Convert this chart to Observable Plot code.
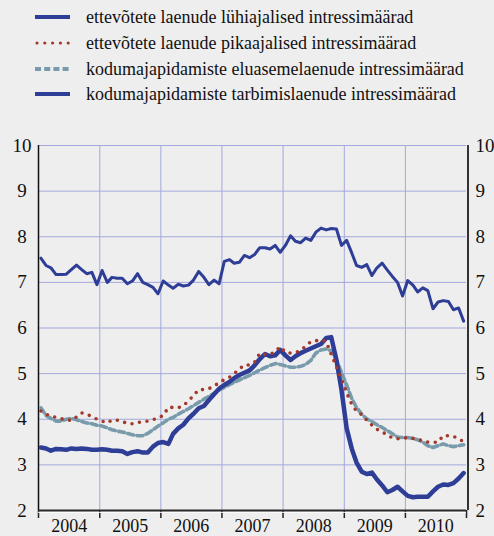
<!DOCTYPE html>
<html><head><meta charset="utf-8">
<script src="https://cdn.jsdelivr.net/npm/d3@7"></script>
<script src="https://cdn.jsdelivr.net/npm/@observablehq/plot@0.6"></script>
<style>
html,body{margin:0;padding:0;background:#eeeeee;}
body{width:494px;height:536px;overflow:hidden;font-family:"Liberation Serif","Times New Roman",serif;}
#legend{position:relative;height:110px;width:494px;}
.row{position:absolute;left:0;width:494px;height:24px;}
.row svg{position:absolute;left:35px;top:8px;}
.row span{position:absolute;left:86px;top:0;font-size:18px;line-height:24px;white-space:nowrap;color:#111;}
#chart svg{display:block;}
</style></head>
<body>
<div id="legend"></div>
<div id="chart"></div>
<script>
// ---- data ----
const years = [2004, 2005, 2006, 2007, 2008, 2009, 2010];
const yTicks = [2, 3, 4, 5, 6, 7, 8, 9, 10];
const seriesNames = [
  "ettevõtete laenude lühiajalised intressimäärad",
  "ettevõtete laenude pikaajalised intressimäärad",
  "kodumajapidamiste eluasemelaenude intressimäärad",
  "kodumajapidamiste tarbimislaenude intressimäärad"
];
// monthly values, Jan 2004 .. Dec 2010
const shortTerm = [
  3.38, 3.36, 3.31, 3.35, 3.34, 3.33, 3.36, 3.35, 3.36, 3.35, 3.33, 3.33,
  3.34, 3.33, 3.31, 3.31, 3.30, 3.24, 3.28, 3.30, 3.27, 3.27, 3.40, 3.48,
  3.50, 3.46, 3.68, 3.80, 3.88, 4.02, 4.12, 4.24, 4.29, 4.42, 4.55, 4.67,
  4.75, 4.82, 4.90, 4.97, 5.02, 5.07, 5.18, 5.32, 5.43, 5.38, 5.40, 5.52,
  5.40, 5.30, 5.38, 5.45, 5.50, 5.55, 5.60, 5.65, 5.78, 5.80, 5.30, 4.65,
  3.80, 3.35, 3.05, 2.85, 2.80, 2.83, 2.68, 2.55, 2.40, 2.45, 2.52, 2.42,
  2.32, 2.29, 2.30, 2.30, 2.30, 2.42, 2.52, 2.57, 2.56, 2.60, 2.70, 2.82
];
const longTerm = [
  4.18, 4.11, 4.07, 4.04, 4.01, 4.00, 3.97, 4.05, 4.14, 4.11, 4.06, 4.00,
  3.96, 3.92, 3.98, 3.98, 3.95, 3.91, 3.90, 3.93, 3.94, 3.96, 3.99, 4.03,
  4.08, 4.26, 4.26, 4.25, 4.30, 4.40, 4.52, 4.65, 4.65, 4.67, 4.73, 4.80,
  4.87, 4.92, 5.00, 5.10, 5.19, 5.19, 5.25, 5.45, 5.42, 5.42, 5.48, 5.59,
  5.47, 5.45, 5.46, 5.51, 5.60, 5.70, 5.72, 5.74, 5.70, 5.42, 5.15, 4.88,
  4.58, 4.32, 4.18, 4.10, 3.98, 3.87, 3.78, 3.72, 3.66, 3.59, 3.57, 3.58,
  3.60, 3.58, 3.57, 3.52, 3.50, 3.49, 3.50, 3.64, 3.64, 3.62, 3.58, 3.50
];
const housing = [
  4.25, 4.08, 4.02, 3.96, 3.96, 4.00, 4.02, 3.99, 3.95, 3.92, 3.90, 3.87,
  3.85, 3.81, 3.77, 3.74, 3.72, 3.69, 3.66, 3.64, 3.64, 3.69, 3.77, 3.85,
  3.92, 4.00, 4.04, 4.11, 4.17, 4.23, 4.30, 4.37, 4.44, 4.50, 4.57, 4.64,
  4.70, 4.76, 4.81, 4.86, 4.91, 4.96, 5.02, 5.08, 5.13, 5.18, 5.22, 5.20,
  5.17, 5.14, 5.14, 5.16, 5.20, 5.29, 5.45, 5.52, 5.54, 5.50, 5.30, 5.03,
  4.75, 4.45, 4.26, 4.11, 4.01, 3.95, 3.88, 3.82, 3.75, 3.68, 3.61, 3.60,
  3.60, 3.58, 3.55, 3.50, 3.42, 3.38, 3.42, 3.46, 3.42, 3.40, 3.42, 3.44
];
const consumer = [
  7.53, 7.37, 7.32, 7.17, 7.17, 7.18, 7.28, 7.38, 7.28, 7.19, 7.22, 6.95,
  7.26, 7.00, 7.11, 7.09, 7.09, 6.97, 7.03, 7.19, 7.00, 6.95, 6.89, 6.75,
  7.03, 6.94, 6.87, 6.96, 6.92, 6.94, 7.05, 7.24, 7.11, 6.95, 7.05, 6.97,
  7.46, 7.50, 7.42, 7.44, 7.59, 7.54, 7.61, 7.76, 7.76, 7.73, 7.81, 7.66,
  7.81, 8.02, 7.90, 7.87, 7.97, 7.92, 8.10, 8.19, 8.15, 8.18, 8.17, 7.81,
  7.92, 7.64, 7.37, 7.33, 7.39, 7.15, 7.32, 7.42, 7.27, 7.13, 7.00, 6.70,
  7.04, 6.94, 6.79, 6.88, 6.82, 6.42, 6.57, 6.60, 6.58, 6.40, 6.44, 6.15
];

// ---- styles ----
const BLUE = "#2e3d96";
const RED = "#a3382b";
const GRAY = "#789bab";
const GRID = "#a3a8dc";

const styles = [
  {stroke: BLUE, strokeWidth: 4.5},
  {stroke: RED, strokeWidth: 3.6, strokeDasharray: "0 7.6", strokeLinecap: "round"},
  {stroke: GRAY, strokeWidth: 3.6, strokeDasharray: "6 3.5"},
  {stroke: BLUE, strokeWidth: 3}
];

// ---- legend ----
const legendTops = [5, 31, 57, 82];
const legend = d3.select("#legend");
seriesNames.forEach((name, k) => {
  const row = legend.append("div").attr("class", "row").style("top", legendTops[k] + "px");
  const svg = row.append("svg").attr("width", 38).attr("height", 8);
  const s = styles[k];
  svg.append("line")
    .attr("x1", k === 1 ? 2 : 0).attr("x2", k === 1 ? 36 : 35).attr("y1", 4).attr("y2", 4)
    .attr("stroke", s.stroke)
    .attr("stroke-width", k === 1 ? 3.2 : 4.2)
    .attr("stroke-dasharray", k === 1 ? "0 7.8" : (k === 2 ? "6 3.2" : null))
    .attr("stroke-linecap", k === 1 ? "round" : "butt");
  row.append("span").text(name);
});

// ---- chart ----
const toRows = arr => arr.map((v, i) => ({date: new Date(Date.UTC(2004, i, 15)), value: v}));
const allSeries = [shortTerm, longTerm, housing, consumer].map(toRows);
const yearStarts = years.map(y => new Date(Date.UTC(y, 0, 1))).concat([new Date(Date.UTC(2011, 0, 1))]);
const yearMids = years.map(y => new Date(Date.UTC(y, 6, 2)));

const chart = Plot.plot({
  width: 494,
  height: 426,
  marginLeft: 38,
  marginRight: 28,
  marginTop: 35,
  marginBottom: 26,
  style: {background: "#eeeeee", fontFamily: "Liberation Serif, Times New Roman, serif", fontSize: "19px", color: "#111", overflow: "visible"},
  x: {type: "utc", domain: [yearStarts[0], yearStarts[yearStarts.length - 1]]},
  y: {domain: [2, 10]},
  marks: [
    Plot.ruleY(yTicks, {stroke: GRID, strokeWidth: 1}),
    Plot.ruleX(yearStarts.slice(1, -1), {stroke: GRID, strokeWidth: 1}),
    Plot.axisY({anchor: "left", ticks: yTicks, tickSize: 0, tickPadding: 16.5, textAnchor: "middle", label: null, fontSize: 19, tickFormat: d => String(d)}),
    Plot.axisY({anchor: "right", ticks: yTicks, tickSize: 0, tickPadding: 9, label: null, fontSize: 19, tickFormat: d => String(d)}),
    Plot.axisX({ticks: yearMids, tickSize: 0, tickPadding: 9, label: null, fontSize: 18, tickFormat: d => String(d.getUTCFullYear())}),
    Plot.axisX({ticks: yearStarts, tickSize: 8, tickFormat: () => "", label: null, stroke: "#222", strokeWidth: 1.5}),
    Plot.ruleY([2], {stroke: "#ffffff", strokeWidth: 1, dy: 1.8}),
    Plot.ruleY([2], {stroke: "#2a2a2a", strokeWidth: 1.8}),
    Plot.ruleX([yearStarts[0]], {stroke: "#111", strokeWidth: 1.5}),
    Plot.ruleX([yearStarts[yearStarts.length - 1]], {stroke: "#333", strokeWidth: 2, dx: 1.5}),
    Plot.lineY(allSeries[2], {x: "date", y: "value", ...styles[2]}),
    Plot.lineY(allSeries[0], {x: "date", y: "value", ...styles[0]}),
    Plot.lineY(allSeries[1], {x: "date", y: "value", ...styles[1]}),
    Plot.lineY(allSeries[3], {x: "date", y: "value", ...styles[3]})
  ]
});
document.getElementById("chart").appendChild(chart);
</script>
</body></html>
